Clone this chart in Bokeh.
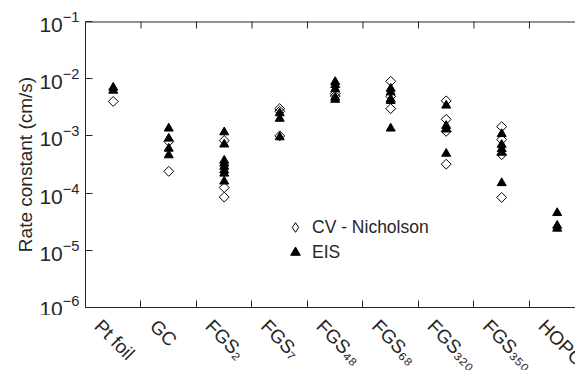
import math
from bokeh.plotting import figure
from bokeh.layouts import column
from bokeh.models import (Range1d, FixedTicker, Legend, LegendItem, ColumnDataSource)
from bokeh.core.properties import value
from bokeh.embed import file_html
from bokeh.resources import INLINE

# ---- data ----
categories = ["Pt foil", "GC", "FGS\u2082", "FGS\u2087", "FGS\u2084\u2088",
              "FGS\u2086\u2088", "FGS\u2083\u2082\u2080", "FGS\u2083\u2085\u2080", "HOPG"]

cv_category = ["Pt foil",
               "GC", "GC",
               "FGS\u2082", "FGS\u2082", "FGS\u2082",
               "FGS\u2087", "FGS\u2087", "FGS\u2087",
               "FGS\u2084\u2088", "FGS\u2084\u2088",
               "FGS\u2086\u2088", "FGS\u2086\u2088", "FGS\u2086\u2088",
               "FGS\u2083\u2082\u2080", "FGS\u2083\u2082\u2080", "FGS\u2083\u2082\u2080", "FGS\u2083\u2082\u2080",
               "FGS\u2083\u2085\u2080", "FGS\u2083\u2085\u2080", "FGS\u2083\u2085\u2080", "FGS\u2083\u2085\u2080"]
cv_rate = [4.0e-3,
           8.0e-4, 2.4e-4,
           8.3e-4, 1.25e-4, 8.5e-5,
           3.0e-3, 2.7e-3, 1.0e-3,
           5.5e-3, 5.0e-3,
           9.0e-3, 4.9e-3, 3.0e-3,
           4.1e-3, 1.95e-3, 1.2e-3, 3.2e-4,
           1.45e-3, 8.6e-4, 4.7e-4, 8.4e-5]

eis_category = ["Pt foil", "Pt foil",
                "GC", "GC", "GC", "GC",
                "FGS\u2082", "FGS\u2082", "FGS\u2082", "FGS\u2082", "FGS\u2082", "FGS\u2082", "FGS\u2082", "FGS\u2082",
                "FGS\u2087", "FGS\u2087", "FGS\u2087",
                "FGS\u2084\u2088", "FGS\u2084\u2088", "FGS\u2084\u2088", "FGS\u2084\u2088", "FGS\u2084\u2088",
                "FGS\u2086\u2088", "FGS\u2086\u2088", "FGS\u2086\u2088", "FGS\u2086\u2088", "FGS\u2086\u2088",
                "FGS\u2083\u2082\u2080", "FGS\u2083\u2082\u2080", "FGS\u2083\u2082\u2080", "FGS\u2083\u2082\u2080",
                "FGS\u2083\u2085\u2080", "FGS\u2083\u2085\u2080", "FGS\u2083\u2085\u2080", "FGS\u2083\u2085\u2080", "FGS\u2083\u2085\u2080",
                "HOPG", "HOPG", "HOPG"]
eis_rate = [7.0e-3, 6.2e-3,
            1.35e-3, 9.0e-4, 6.0e-4, 4.6e-4,
            1.16e-3, 7.1e-4, 3.7e-4, 3.3e-4, 2.9e-4, 2.5e-4, 2.2e-4, 1.6e-4,
            2.5e-3, 2.0e-3, 9.5e-4,
            8.8e-3, 7.8e-3, 6.6e-3, 4.7e-3, 4.3e-3,
            6.7e-3, 5.8e-3, 4.4e-3, 4.1e-3, 1.35e-3,
            3.4e-3, 1.5e-3, 1.3e-3, 4.9e-4,
            1.08e-3, 7.0e-4, 5.9e-4, 5.1e-4, 1.5e-4,
            4.5e-5, 2.7e-5, 2.4e-5]

legend_labels = ["CV - Nicholson", "EIS"]
y_label = "Rate constant (cm/s)"

# ---- layout / style ----
FONT = "Liberation Sans"
INK = "#262626"
center = {c: i + 0.5 for i, c in enumerate(categories)}
boundaries = list(range(1, len(categories) + 1))
xr = Range1d(0, 8.83)
yr = Range1d(1e-6, 1e-1)

p = figure(width=575, height=315, y_axis_type="log",
           x_range=xr, y_range=yr,
           output_backend="svg", toolbar_location=None,
           min_border_left=85, min_border_right=0, min_border_top=21, min_border_bottom=8)
p.outline_line_color = None
p.xgrid.visible = False
p.ygrid.visible = False
p.background_fill_color = "white"
p.border_fill_color = "white"

cv_src = ColumnDataSource(dict(x=[center[c] for c in cv_category], y=cv_rate))
eis_src = ColumnDataSource(dict(x=[center[c] for c in eis_category], y=eis_rate))

r_cv = p.scatter("x", "y", source=cv_src, marker="square", angle=math.pi / 4, size=7,
                 fill_color=None, line_color="black", line_width=1)
r_eis = p.scatter("x", "y", source=eis_src, marker="triangle", size=9,
                  fill_color="black", line_color="black", line_width=1)
# legend key for the open diamonds (legend draws markers unrotated); zero size in the plot
r_cv_key = p.scatter("x", "y", source=cv_src, marker="diamond", size=0,
                     fill_color=None, line_color="black", line_width=1)

# top edge of the box: line plus inward boundary ticks (clipped to the frame)
p.segment(x0=[xr.start], y0=[yr.end], x1=[xr.end], y1=[yr.end],
          line_color=INK, line_width=2)
top_src = ColumnDataSource(dict(x=boundaries, y=[yr.end] * len(boundaries)))
p.scatter("x", "y", source=top_src, marker="dash", angle=math.pi / 2, size=14,
          line_color=INK, line_width=1)

# bottom axis: boundary ticks only
xa = p.xaxis[0]
xa.ticker = FixedTicker(ticks=[], minor_ticks=boundaries)
xa.minor_tick_in = 7
xa.minor_tick_out = 0
xa.minor_tick_line_color = INK
xa.axis_line_color = INK
xa.major_label_standoff = 0

# left axis
ya = p.yaxis[0]
ya.major_tick_in = 7
ya.major_tick_out = 0
ya.minor_tick_line_color = None
ya.axis_line_color = INK
ya.major_tick_line_color = INK
ya.major_label_text_font = FONT
ya.major_label_text_font_size = "21px"
ya.major_label_text_color = INK
ya.major_label_standoff = 2
ya.axis_label = y_label
ya.axis_label_text_font = FONT
ya.axis_label_text_font_size = "19px"
ya.axis_label_text_font_style = "normal"
ya.axis_label_text_color = INK
ya.axis_label_standoff = 0

legend = Legend(items=[LegendItem(label=legend_labels[0], renderers=[r_cv_key]),
                       LegendItem(label=legend_labels[1], renderers=[r_eis])],
                location=(198, 43))
legend.border_line_color = None
legend.background_fill_alpha = 0
legend.padding = 0
legend.margin = 0
legend.spacing = 1
legend.glyph_width = 24
legend.glyph_height = 24
legend.label_standoff = 5
legend.label_text_font = FONT
legend.label_text_font_size = "17.5px"
legend.label_text_color = INK
p.add_layout(legend)

# strip below the plot holding the rotated category labels
s = figure(width=575, height=55, x_range=xr, y_range=Range1d(0, 1),
           x_axis_type=None, y_axis_type=None,
           output_backend="svg", toolbar_location=None,
           min_border_left=85, min_border_right=0, min_border_top=0, min_border_bottom=0)
s.outline_line_color = None
s.grid.visible = False
s.background_fill_color = "white"
s.border_fill_color = "white"
lab_src = ColumnDataSource(dict(x=[center[c] for c in categories], text=categories))
s.text(x="x", y=1, text="text", source=lab_src, angle=-math.pi / 4, x_offset=-8,
       text_align="left", text_baseline="top", text_font=value(FONT),
       text_font_size="19px", text_color=INK)

layout = column(p, s, spacing=0)
open("out.html", "w").write(file_html(layout, INLINE))
